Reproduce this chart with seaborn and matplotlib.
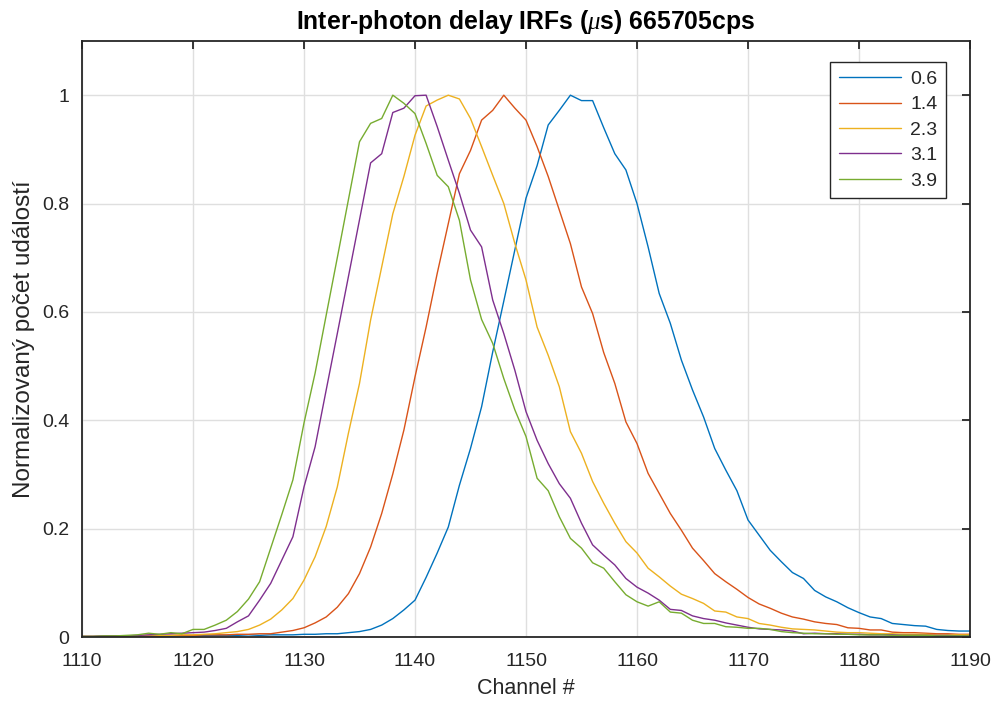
import numpy as np
import pandas as pd
import matplotlib
matplotlib.use("Agg")
import matplotlib.pyplot as plt
import seaborn as sns

channels = list(range(1110, 1191))

delays = ["0.6", "1.4", "2.3", "3.1", "3.9"]

irf_06 = [0.001, 0.001, 0.001, 0.002, 0.001, 0.002, 0.002, 0.002, 0.002, 0.003,
          0.002, 0.003, 0.003, 0.003, 0.003, 0.004, 0.003, 0.004, 0.004, 0.004,
          0.005, 0.005, 0.006, 0.006, 0.008, 0.010, 0.014, 0.022, 0.034, 0.050,
          0.068, 0.110, 0.155, 0.203, 0.280, 0.348, 0.425, 0.526, 0.620, 0.715,
          0.810, 0.870, 0.945, 0.972, 1.000, 0.990, 0.990, 0.940, 0.892, 0.862,
          0.800, 0.720, 0.634, 0.579, 0.511, 0.456, 0.406, 0.348, 0.308, 0.270,
          0.216, 0.188, 0.160, 0.139, 0.119, 0.108, 0.086, 0.074, 0.065, 0.054,
          0.045, 0.037, 0.034, 0.025, 0.023, 0.021, 0.020, 0.014, 0.012, 0.011,
          0.011]

irf_14 = [0.001, 0.001, 0.001, 0.001, 0.002, 0.002, 0.002, 0.002, 0.003, 0.003,
          0.003, 0.004, 0.004, 0.004, 0.005, 0.005, 0.006, 0.006, 0.009, 0.012,
          0.017, 0.026, 0.037, 0.055, 0.080, 0.117, 0.166, 0.228, 0.301, 0.382,
          0.480, 0.572, 0.671, 0.763, 0.855, 0.898, 0.954, 0.972, 1.000, 0.976,
          0.954, 0.905, 0.850, 0.788, 0.726, 0.646, 0.597, 0.525, 0.468, 0.397,
          0.357, 0.302, 0.265, 0.228, 0.197, 0.164, 0.141, 0.117, 0.102, 0.088,
          0.073, 0.061, 0.053, 0.044, 0.037, 0.033, 0.028, 0.025, 0.023, 0.017,
          0.016, 0.013, 0.013, 0.009, 0.008, 0.008, 0.007, 0.006, 0.006, 0.005,
          0.005]

irf_23 = [0.001, 0.001, 0.001, 0.002, 0.002, 0.002, 0.003, 0.003, 0.003, 0.004,
          0.004, 0.005, 0.006, 0.008, 0.010, 0.014, 0.022, 0.033, 0.050, 0.071,
          0.105, 0.148, 0.204, 0.277, 0.376, 0.468, 0.585, 0.683, 0.781, 0.850,
          0.926, 0.980, 0.991, 1.000, 0.993, 0.957, 0.905, 0.852, 0.800, 0.726,
          0.659, 0.572, 0.520, 0.462, 0.379, 0.339, 0.287, 0.247, 0.210, 0.176,
          0.155, 0.127, 0.111, 0.094, 0.079, 0.071, 0.062, 0.048, 0.046, 0.037,
          0.034, 0.025, 0.022, 0.018, 0.015, 0.014, 0.013, 0.011, 0.009, 0.008,
          0.008, 0.007, 0.006, 0.006, 0.005, 0.005, 0.005, 0.004, 0.004, 0.004,
          0.004]

irf_31 = [0.001, 0.001, 0.002, 0.002, 0.002, 0.003, 0.004, 0.005, 0.006, 0.007,
          0.008, 0.009, 0.012, 0.016, 0.028, 0.039, 0.068, 0.099, 0.142, 0.185,
          0.277, 0.351, 0.456, 0.560, 0.665, 0.770, 0.875, 0.892, 0.968, 0.976,
          0.999, 1.000, 0.942, 0.880, 0.819, 0.751, 0.720, 0.622, 0.560, 0.492,
          0.416, 0.363, 0.320, 0.283, 0.256, 0.210, 0.170, 0.151, 0.133, 0.108,
          0.092, 0.081, 0.068, 0.051, 0.049, 0.039, 0.034, 0.031, 0.026, 0.022,
          0.018, 0.015, 0.014, 0.013, 0.011, 0.006, 0.007, 0.006, 0.006, 0.005,
          0.005, 0.004, 0.004, 0.004, 0.003, 0.003, 0.003, 0.003, 0.003, 0.002,
          0.002]

irf_39 = [0.001, 0.001, 0.002, 0.002, 0.003, 0.004, 0.007, 0.005, 0.008, 0.006,
          0.014, 0.014, 0.022, 0.031, 0.047, 0.070, 0.102, 0.164, 0.226, 0.290,
          0.395, 0.487, 0.594, 0.700, 0.807, 0.914, 0.948, 0.957, 1.000, 0.985,
          0.966, 0.911, 0.852, 0.831, 0.769, 0.659, 0.586, 0.542, 0.477, 0.419,
          0.370, 0.293, 0.270, 0.222, 0.182, 0.164, 0.137, 0.127, 0.102, 0.078,
          0.065, 0.057, 0.065, 0.046, 0.044, 0.031, 0.025, 0.025, 0.019, 0.018,
          0.016, 0.016, 0.014, 0.010, 0.008, 0.007, 0.006, 0.006, 0.005, 0.005,
          0.004, 0.004, 0.004, 0.003, 0.003, 0.003, 0.003, 0.002, 0.002, 0.002,
          0.002]

xticks = [1110, 1120, 1130, 1140, 1150, 1160, 1170, 1180, 1190]
yticks = [0, 0.2, 0.4, 0.6, 0.8, 1.0]
ytick_labels = ["0", "0.2", "0.4", "0.6", "0.8", "1"]

title = "Inter-photon delay IRFs ($\\mu$s) 665705cps"
xlabel = "Channel #"
ylabel = "Normalizovaný počet událostí"

colors = ["#0072BD", "#D95319", "#EDB120", "#7E2F8E", "#77AC30"]

series = [irf_06, irf_14, irf_23, irf_31, irf_39]
df = pd.concat([
    pd.DataFrame({"channel": channels, "value": vals, "delay": d})
    for d, vals in zip(delays, series)
], ignore_index=True)

sns.set_theme(style="white")
plt.rcParams["font.family"] = ["Liberation Sans", "DejaVu Sans"]
plt.rcParams["mathtext.fontset"] = "custom"
plt.rcParams["mathtext.it"] = "Liberation Serif:italic"

fig = plt.figure(figsize=(9.92, 7.04), dpi=100)
ax = fig.add_axes([82 / 992, 1 - 637 / 704, (970 - 82) / 992, (637 - 41) / 704])

sns.lineplot(data=df, x="channel", y="value", hue="delay", palette=colors,
             hue_order=delays, linewidth=1.0, ax=ax, legend=False)

ax.set_xlim(1110, 1190)
ax.set_ylim(0, 1.1)
ax.set_xticks(xticks)
ax.set_yticks(yticks)
ax.set_yticklabels(ytick_labels)
ax.grid(True, color="#dfdfdf", linewidth=1.0)
ax.set_axisbelow(True)

for s in ax.spines.values():
    s.set_color("#262626")
    s.set_linewidth(1.3)
ax.tick_params(direction="in", length=6, width=1.3, color="#262626",
               top=True, right=True, labelsize=14, labelcolor="#262626")
ax.tick_params(axis="x", pad=11.5)
ax.tick_params(axis="y", pad=9)

ax.set_xlabel(xlabel, fontsize=15.5, color="#262626", labelpad=6)
ax.set_ylabel(ylabel, fontsize=17.5, color="#262626", labelpad=5)
ax.set_title(title, fontsize=17.8, fontweight="bold", color="black", pad=9)

handles = [plt.Line2D([], [], color=c, linewidth=1.0) for c in colors]
leg = ax.legend(handles, delays, loc="upper right", bbox_to_anchor=(946 / 992, 1 - 61.7 / 704),
                bbox_transform=fig.transFigure, fontsize=14, handlelength=3.2,
                handletextpad=0.45, labelspacing=0.4, borderpad=0.45, borderaxespad=0,
                fancybox=False, framealpha=1, edgecolor="#262626")
leg.get_frame().set_linewidth(1.0)

fig.savefig("out.png", dpi=100)
